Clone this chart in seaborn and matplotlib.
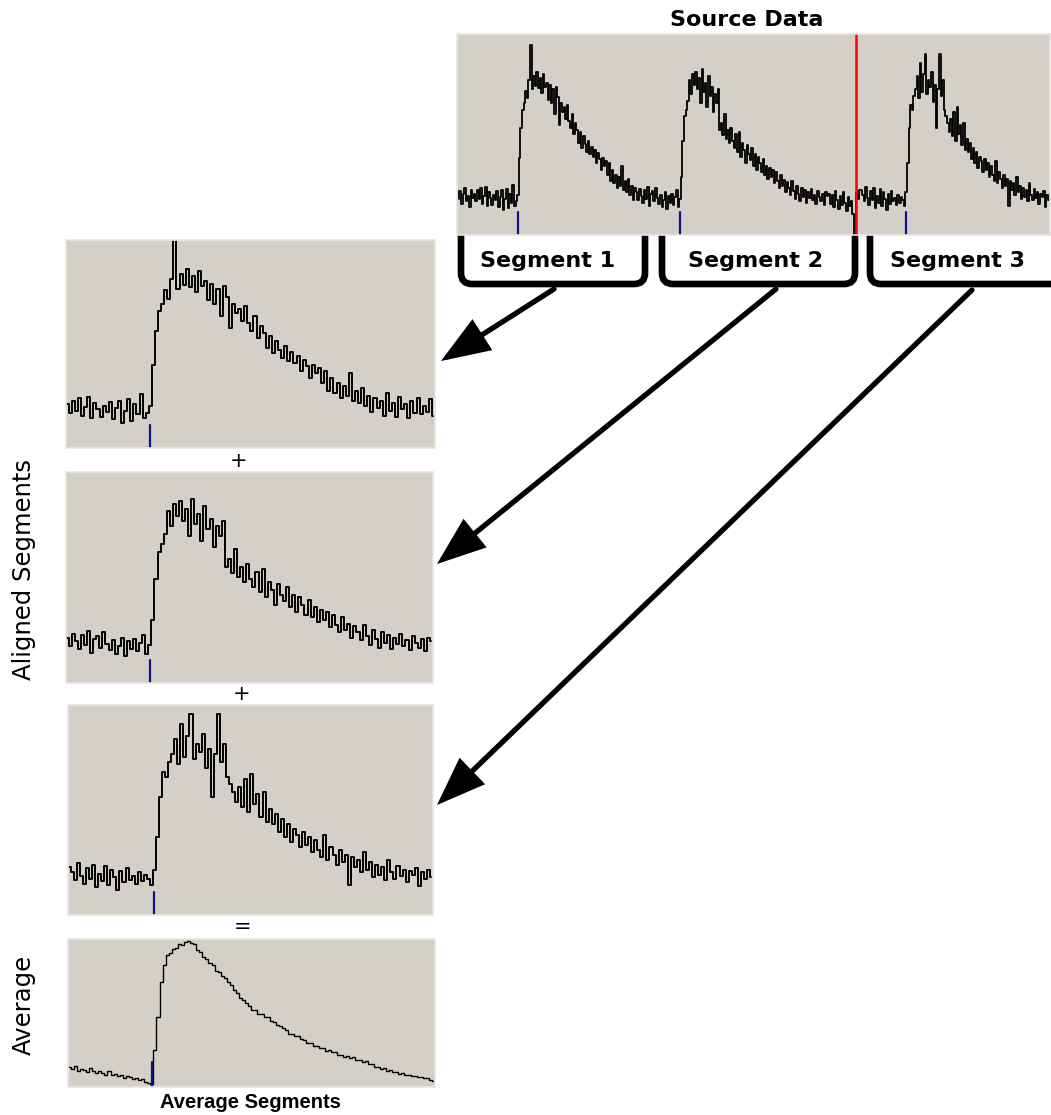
import numpy as np
import matplotlib
matplotlib.use("Agg")
import matplotlib.pyplot as plt
from matplotlib.patches import FancyArrowPatch, PathPatch
from matplotlib.path import Path
import seaborn as sns

# ---------------------------------------------------------------
# Data (arbitrary units, baseline = 0)
# ---------------------------------------------------------------
seg1_pre = [3, -4, 6, -2, 8, -6, 1, 9, -8, 4, -1, -7, 2, -3, 5, -9, 0, 6,
            -12, -2, 7, -10, 3, -5, 11, -8, -4]
seg1_post = [2, 35, 62, 78, 84, 95, 88, 104, 136, 96,
             108, 99, 112, 97, 106, 93, 110, 98, 102, 87,
             100, 84, 96, 74, 98, 89, 64, 84, 76, 80,
             70, 82, 68, 62, 74, 56, 66, 60, 48, 58,
             44, 54, 47, 40, 50, 38, 45, 36, 42, 30,
             39, 34, 24, 35, 28, 32, 20, 30, 14, 24,
             12, 20, 8, 18, 10, 28, 6, 14, 4, 16,
             2, 10, -3, 8, 0, 6, -6, 12, -2, 4,
             -7, 9, -1, 3, -8, 6, -4, 8, -5, 2,
             -3, 7, -6]

seg2_pre = [4, -3, 7, 1, -5, 6, -2, 9, -8, 3, 5, -4, 8, -1, -6, 2, -9, -3,
            4, -11, 1, -5, 3, -7, 0, 6, -9]
seg2_post = [-2, 18, 50, 72, 78, 86, 104, 92, 110, 100,
             112, 96, 106, 84, 114, 94, 102, 80, 108, 90,
             98, 76, 92, 84, 96, 60, 66, 55, 74, 52,
             60, 48, 62, 50, 44, 56, 40, 58, 36, 48,
             42, 30, 46, 38, 33, 44, 28, 38, 24, 36,
             30, 22, 34, 20, 28, 16, 26, 18, 24, 12,
             22, 14, 8, 20, 10, 15, 4, 13, 8, 2,
             14, 5, -2, 10, 3, -4, 8, 0, 6, -5,
             4, -1, 7, -3, 2, -6, 5, 0, -4, 3,
             -7, 4, 1]

seg3_pre = [6, 2, -4, 9, -1, -7, 5, -3, 8, -10, 1, -5, 7, -8, 4, -2, -12, 3,
            -6, 5, -4, -1, -7, 2, -5, 0, -3, -8]
seg3_post = [4, 30, 62, 82, 78, 90, 96, 108, 88, 120,
             94, 110, 128, 92, 104, 98, 112, 85, 100, 62,
             96, 128, 90, 104, 78, 72, 66, 58, 70, 54,
             76, 50, 80, 56, 64, 46, 66, 42, 52, 40,
             48, 34, 44, 30, 40, 26, 36, 32, 22, 34,
             24, 30, 18, 28, 20, 14, 32, 12, 22, 16,
             8, 20, 10, 16, -8, 14, 6, 12, 2, 18,
             4, 10, -2, 8, 0, 6, -4, 12, 2, -3,
             7, -1, 4, -6, 3, 0, 5, -9, 2, -3,
             4, -2]

avg_pre = [5, 3.5, 6, 2.5, 4, 3, 1.5, 4.5, 2, 0.5, 2.5, 1, -0.5, 2, -1, 0,
           -2, -0.5, -3, -1.5, -2.5, -4, -3, -5, -4, -6.5, -7]
avg_post = [-7.5, 18, 43, 70, 83, 90, 91.5, 95, 95.5, 98.5,
            98, 100.5, 101, 99.5, 98.5, 94.5, 92.5, 88.5, 87.5, 84.5,
            82.5, 78.5, 77.5, 74.5, 72.5, 69.5, 67.5, 63.5, 61.5, 57.5,
            56.5, 53.5, 51.5, 48.5, 48.5, 45.5, 45.5, 43.5, 43.5, 40.5,
            39.5, 37.5, 36.5, 34.5, 33.5, 30.5, 30.5, 28.5, 28.5, 26.5,
            25.5, 23.5, 23.5, 21.5, 21.5, 19.5, 19.5, 17.5, 18, 16.5,
            16.5, 14.5, 14.5, 13, 13.5, 12, 12.5, 10.5, 10.5, 9,
            9.5, 7.5, 7.5, 5.5, 5.5, 4, 4.5, 2.5, 3, 1.5,
            1.5, 0, 0.5, -1, -0.5, -2, -1.5, -2.5, -2.5, -3.5,
            -3.5, -5, -5.5]

# pieces of the continuous recording that are not part of a segment window
lead_in = [-2, 5, -6, 3, 8, -4, 1, -9, 6, -1]
sweep_end = [3, -6, 2, -9, 5, -3, -11, 1, -7, 4, -5, -13, 0, -8, -4, -15, -34]
sweep_start = [4, -2, 6]
seg1_keep = 101   # samples of segment 1 before segment 2 starts

segment_names = ["Segment 1", "Segment 2", "Segment 3"]

seg1 = np.array(seg1_pre + seg1_post, dtype=float)
seg2 = np.array(seg2_pre + seg2_post, dtype=float)
seg3 = np.array(seg3_pre + seg3_post, dtype=float)
average = np.array(avg_pre + avg_post, dtype=float)
segments = [seg1, seg2, seg3]
onsets = [len(seg1_pre), len(seg2_pre), len(seg3_pre)]
avg_onset = len(avg_pre)

source = np.concatenate([lead_in, seg1[:seg1_keep], seg2, sweep_end,
                         sweep_start, seg3])
src_onsets = [len(lead_in) + onsets[0],
              len(lead_in) + seg1_keep + onsets[1],
              len(lead_in) + seg1_keep + len(seg2) + len(sweep_end)
              + len(sweep_start) + onsets[2]]
sweep_break = len(lead_in) + seg1_keep + len(seg2) + len(sweep_end) - 0.5

# ---------------------------------------------------------------
# Style
# ---------------------------------------------------------------
sns.set_theme(style="white", rc={"axes.facecolor": "#d4d0c8",
                                 "axes.edgecolor": "#e9e6e0",
                                 "axes.linewidth": 1.2,
                                 "text.color": "black"})
plt.rcParams["font.family"] = ["DejaVu Sans"]

W, H = 1051, 1115
fig = plt.figure(figsize=(W / 100, H / 100), dpi=100)
fig.patch.set_facecolor("white")

BLUE = "#10108c"


def px_axes(x0, y0, x1, y1):
    """Axes placed with pixel coordinates (top-left origin)."""
    ax = fig.add_axes([x0 / W, 1 - y1 / H, (x1 - x0) / W, (y1 - y0) / H])
    ax.set_zorder(2)
    return ax


def draw_trace(ax, y, ylim, xlim, lw, marks, mark_frac):
    x = np.arange(len(y))
    sns.lineplot(x=x, y=y, ax=ax, color="black", linewidth=lw,
                 drawstyle="steps-mid", errorbar=None)
    for m in marks:
        ax.axvline(m, ymin=0, ymax=mark_frac, color=BLUE, lw=1.6)
    ax.set_xlim(*xlim)
    ax.set_ylim(*ylim)
    ax.set(xticks=[], yticks=[], xlabel="", ylabel="")


# overlay in pixel coordinates for arrows, brackets and labels
deco = fig.add_axes([0, 0, 1, 1])
deco.set_zorder(1)
deco.set_xlim(0, W)
deco.set_ylim(H, 0)
deco.axis("off")
deco.patch.set_visible(False)

# source recording
ax_src = px_axes(457, 34, 1050, 235)
draw_trace(ax_src, source, (-34, 145.5), (-1, 368.7), 1.3, src_onsets, 0.115)
ax_src.axvline(sweep_break, color="red", lw=1.8)

# aligned segments
seg_boxes = [(65.7, 240, 435, 448), (65.7, 472, 433, 683), (67.7, 705, 433, 915)]
for seg, on, box in zip(segments, onsets, seg_boxes):
    ax = px_axes(*box)
    draw_trace(ax, seg, (-32, 135), (-0.5, len(seg) - 0.5), 1.4, [on], 0.11)

# average
ax_avg = px_axes(67.7, 939, 435, 1087)
draw_trace(ax_avg, average, (-10, 102.5), (-0.5, len(average) - 0.5), 1.0,
           [avg_onset], 0.17)

# ---------------------------------------------------------------
# Annotations
# ---------------------------------------------------------------
deco.text(747, 20, "Source Data", ha="center", va="center",
          fontsize=16, fontweight="bold", color="black")

bracket_x = [(461, 645), (662, 855), (870, 1062)]
label_x = [548, 756, 958]
for (xl, xr), lx, name in zip(bracket_x, label_x, segment_names):
    yt, yb, r = 230, 284, 11
    verts = [(xl, yt), (xl, yb - r), (xl, yb), (xl + r, yb),
             (xr - r, yb), (xr, yb), (xr, yb - r), (xr, yt)]
    codes = [Path.MOVETO, Path.LINETO, Path.CURVE3, Path.CURVE3,
             Path.LINETO, Path.CURVE3, Path.CURVE3, Path.LINETO]
    deco.add_patch(PathPatch(Path(verts, codes), facecolor="none",
                             edgecolor="black", lw=4.8, capstyle="butt"))
    deco.text(lx, 261, name, ha="center", va="center", fontsize=16,
              fontweight="bold", color="black")

arrows = [((554, 289), (441, 361)),
          ((776, 289), (437, 564)),
          ((972, 290), (437, 805))]
for start, end in arrows:
    deco.add_patch(FancyArrowPatch(
        start, end, arrowstyle="-|>,head_length=28,head_width=10.5",
        mutation_scale=1, lw=3.8, color="black", shrinkA=0, shrinkB=0,
        joinstyle="miter", capstyle="round"))

for (tx, ty), sym in zip([(239, 461), (242, 694), (243, 927)], ["+", "+", "="]):
    deco.text(tx, ty, sym, ha="center", va="center", fontsize=15, color="black")

deco.text(24, 570, "Aligned Segments", rotation=90, ha="center", va="center",
          fontsize=17.5, color="black")
deco.text(24, 1005, "Average", rotation=90, ha="center", va="center",
          fontsize=17.5, color="black")
deco.text(250, 1103, "Average Segments", ha="center", va="center",
          fontsize=14.5, fontweight="bold", color="black",
          family=["Liberation Sans", "DejaVu Sans"])

fig.savefig("out.png", dpi=100, facecolor="white")
